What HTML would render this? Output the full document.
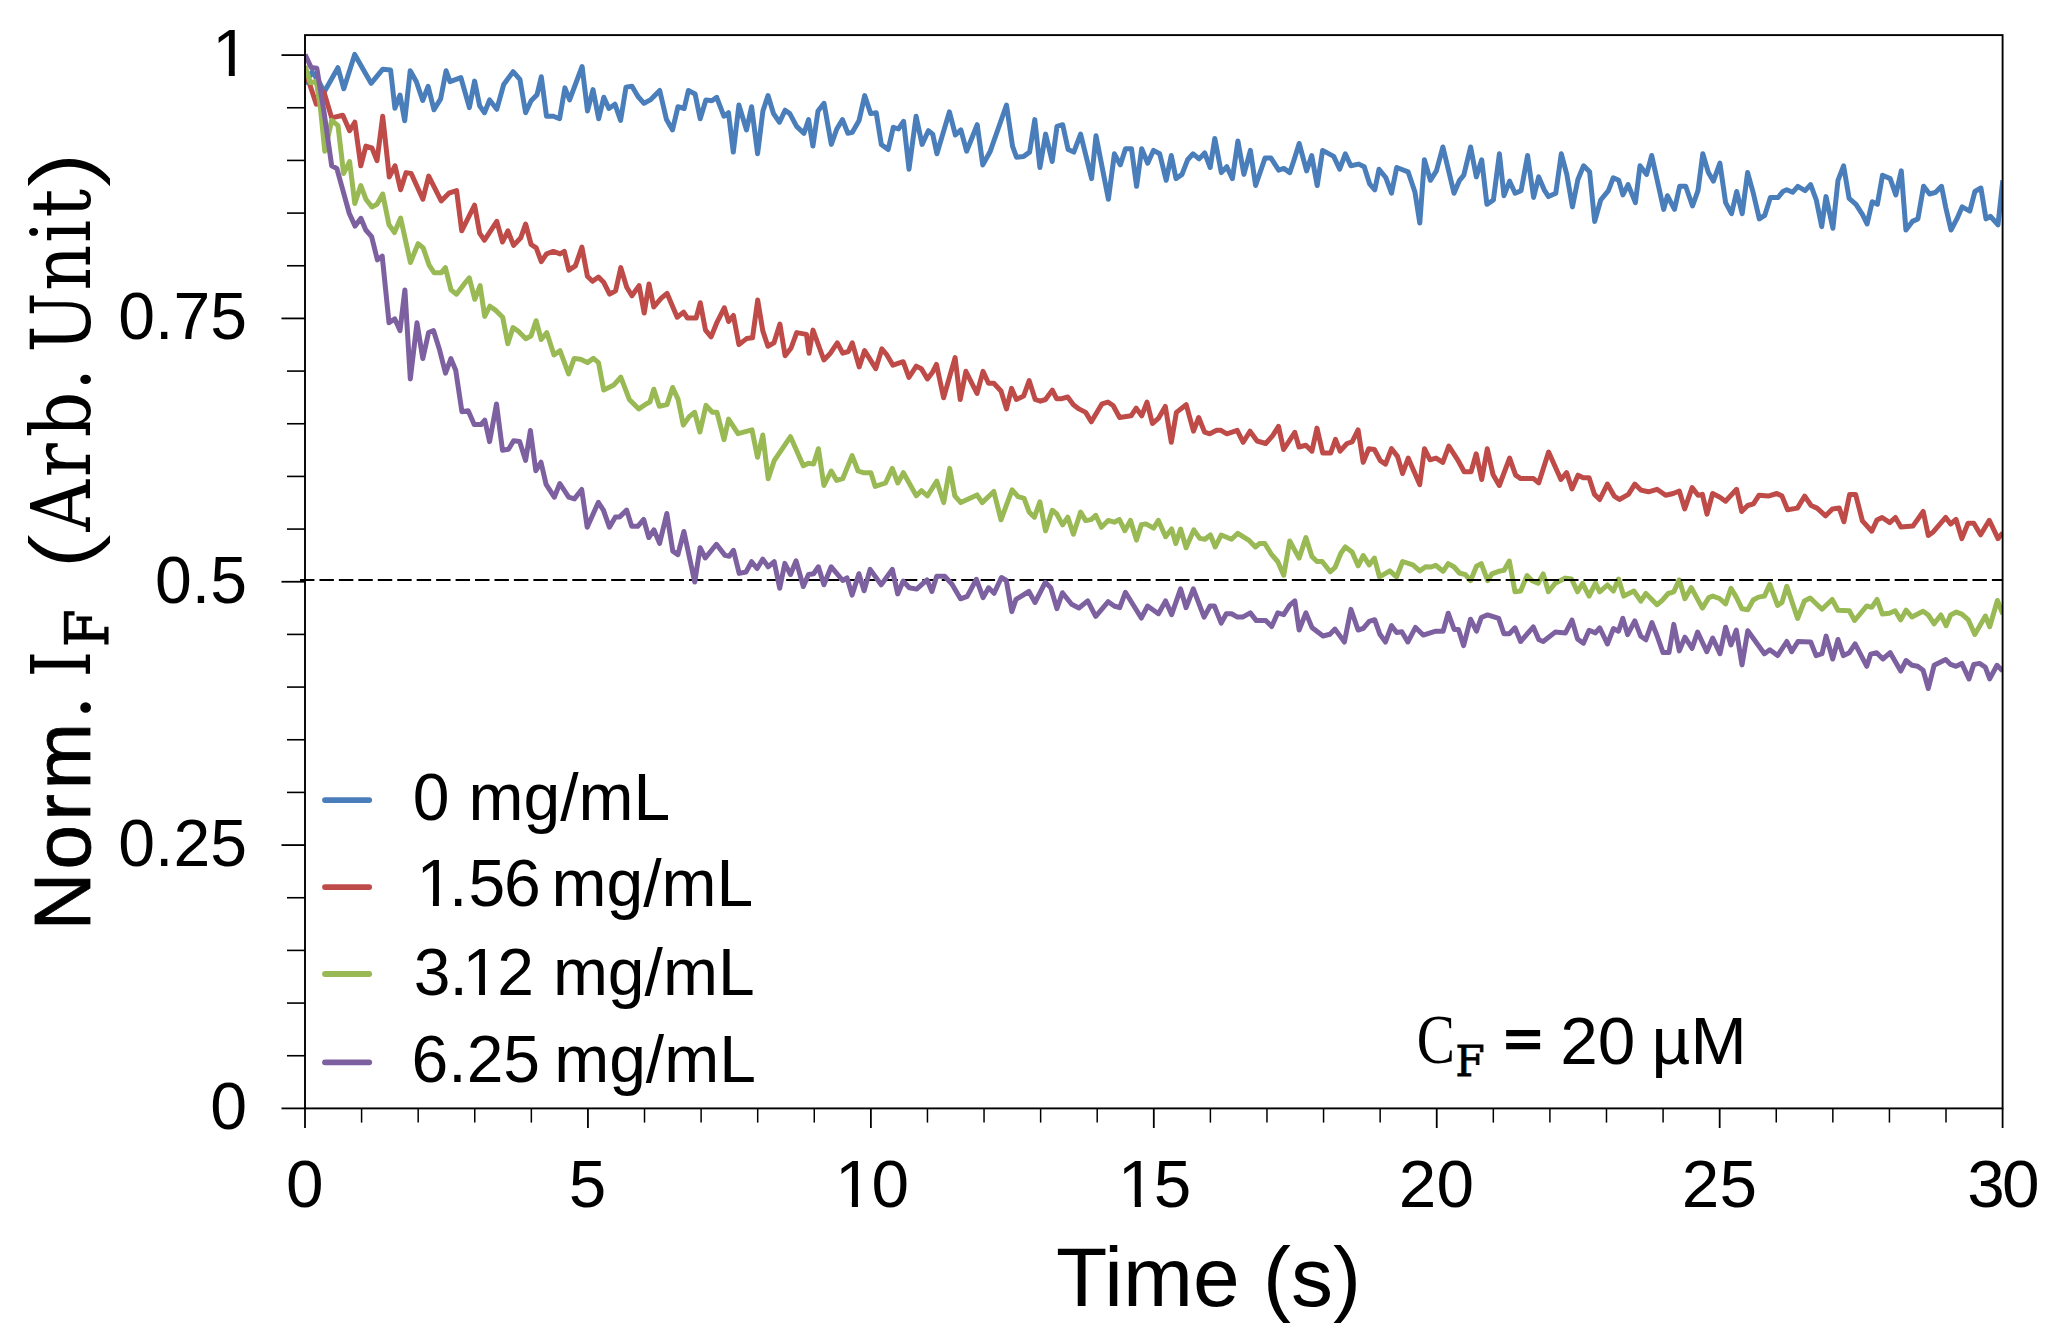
<!DOCTYPE html>
<html lang="en"><head><meta charset="utf-8"><title>Normalized fluorescence intensity vs time</title>
<style>html,body{margin:0;padding:0;background:#fff;}body{width:2050px;height:1344px;overflow:hidden;}svg{display:block;}text{fill:#000;}</style>
</head><body>
<svg width="2050" height="1344" viewBox="0 0 2050 1344">
<rect x="0" y="0" width="2050" height="1344" fill="#ffffff"/>
<defs><clipPath id="plotclip"><rect x="305" y="36" width="1698" height="1072"/></clipPath></defs>
<g id="curves" clip-path="url(#plotclip)">
<polyline points="305.0,84.0 312.0,72.0 318.0,80.0 324.2,92.0 337.9,67.7 343.8,88.8 354.7,54.4 371.1,83.3 382.8,69.2 390.6,70.0 394.9,108.3 400.0,95.0 404.7,120.8 410.2,70.8 416.4,81.7 422.7,100.5 428.1,86.4 434.0,109.8 440.6,98.9 446.1,70.8 450.0,81.7 460.9,77.7 469.4,107.6 474.6,81.1 479.7,105.9 484.5,112.7 489.6,99.9 496.8,109.3 503.7,84.5 513.1,71.7 519.9,79.4 525.6,112.7 531.1,100.8 537.0,94.8 541.3,76.8 546.5,116.2 553.3,116.2 559.6,118.7 564.9,87.9 569.6,99.9 582.1,66.5 587.5,111.0 593.0,89.6 598.7,118.7 603.8,97.3 608.9,108.5 614.9,104.2 620.6,120.4 626.0,87.1 632.0,86.2 638.0,96.5 644.0,103.3 650.3,99.9 659.7,90.5 666.5,119.6 672.5,129.9 678.0,106.7 684.2,108.5 688.4,90.5 695.1,93.9 700.2,118.7 705.9,99.9 711.9,100.8 716.7,97.3 723.9,116.2 728.5,112.7 733.3,152.1 738.9,105.0 746.5,129.9 751.6,106.7 757.6,153.8 762.9,111.0 768.0,95.6 773.5,113.6 779.5,122.2 785.1,110.2 789.8,113.6 796.6,126.4 804.0,133.3 808.6,119.6 812.9,146.1 818.0,111.0 824.0,103.3 831.3,144.4 836.8,129.0 842.5,119.6 847.9,133.3 852.2,132.4 859.1,120.4 864.7,95.6 870.7,113.6 876.2,112.7 881.3,144.4 888.2,149.5 893.3,127.3 898.4,129.0 903.6,121.3 909.0,169.2 916.1,116.2 922.1,144.4 928.4,130.7 932.7,134.1 936.9,153.8 949.4,111.9 955.4,135.0 960.9,129.9 966.6,151.2 977.2,124.7 982.8,164.9 990.3,151.2 1006.5,105.0 1012.5,146.1 1016.5,157.2 1023.6,156.4 1029.6,152.1 1034.8,119.6 1039.9,167.5 1045.6,134.1 1052.2,161.5 1057.0,126.4 1062.7,124.7 1068.1,149.5 1073.8,152.1 1080.6,134.1 1091.6,178.6 1096.0,135.8 1108.4,199.2 1114.4,153.8 1120.3,164.9 1125.5,148.7 1131.5,148.7 1136.6,186.3 1141.7,148.7 1147.7,163.2 1153.4,150.4 1159.7,153.8 1166.2,180.3 1171.3,155.5 1176.0,178.6 1182.0,174.4 1187.6,159.8 1193.1,153.8 1199.1,158.9 1204.7,153.0 1210.2,167.5 1214.8,138.4 1221.3,172.6 1226.8,166.7 1232.4,178.6 1237.9,141.0 1243.9,174.4 1250.4,150.4 1255.6,185.5 1265.0,158.1 1271.0,158.1 1278.7,170.1 1283.8,168.4 1289.8,172.6 1294.1,159.8 1299.2,143.5 1306.6,170.9 1311.7,155.5 1317.2,185.5 1322.6,150.4 1333.7,156.4 1339.7,169.2 1345.3,153.8 1350.8,165.8 1358.5,164.1 1364.2,166.7 1369.6,183.8 1374.8,189.8 1379.0,169.2 1385.9,177.8 1391.5,193.2 1396.7,167.5 1408.1,171.8 1415.0,192.3 1419.8,223.1 1424.4,159.8 1430.4,180.3 1436.4,170.9 1442.9,147.0 1454.0,193.2 1459.5,180.3 1463.8,175.2 1470.6,147.0 1476.3,176.9 1481.7,159.8 1486.9,204.3 1493.4,200.0 1499.4,153.8 1504.0,195.7 1509.6,181.2 1515.1,193.2 1521.1,190.6 1527.6,155.5 1533.6,197.5 1538.7,176.9 1544.2,189.8 1548.5,196.6 1555.8,193.2 1561.3,153.8 1566.8,174.4 1572.4,206.9 1577.9,179.5 1583.6,165.8 1589.6,171.8 1594.7,221.4 1600.7,200.0 1608.4,190.6 1613.2,177.8 1618.7,180.3 1622.9,194.9 1628.1,184.6 1635.4,202.6 1640.0,165.8 1646.6,174.4 1651.7,155.5 1657.2,180.3 1663.7,209.4 1667.4,195.7 1674.5,209.4 1679.7,186.3 1685.7,186.3 1692.5,206.0 1698.0,190.6 1702.8,153.8 1708.4,172.6 1713.4,181.2 1719.9,163.2 1725.6,202.6 1731.5,213.7 1736.7,191.5 1742.2,213.7 1747.6,172.6 1753.3,193.2 1759.3,218.9 1764.7,215.4 1770.4,197.5 1778.1,197.5 1782.9,191.5 1786.7,189.8 1792.6,192.3 1797.8,186.3 1805.1,190.6 1810.6,184.6 1816.3,200.0 1821.7,226.6 1826.0,196.6 1832.9,228.3 1838.0,180.3 1843.6,165.8 1849.1,198.3 1856.0,204.3 1862.5,214.6 1867.1,224.0 1872.2,201.7 1877.4,204.3 1882.5,175.2 1890.2,178.6 1895.8,194.9 1901.3,170.9 1905.9,230.0 1912.4,221.4 1917.9,218.9 1923.6,186.3 1929.6,194.0 1935.6,192.3 1941.5,186.3 1945.8,207.7 1951.0,230.0 1956.9,218.9 1962.1,206.9 1969.8,211.1 1974.9,191.5 1980.9,188.0 1986.0,218.9 1990.3,216.3 1998.0,224.8 2002.8,180.3" fill="none" stroke="#4a7ebb" stroke-width="5" stroke-linejoin="round" stroke-linecap="butt"/>
<polyline points="305.0,70.0 316.3,104.2 324.0,92.2 331.7,117.9 342.8,115.3 349.6,130.7 354.8,122.2 360.8,165.8 365.9,146.1 371.9,147.8 377.0,160.7 382.7,116.2 389.3,176.9 395.0,165.8 400.6,189.8 406.1,172.6 411.2,173.5 422.9,199.2 428.7,176.1 441.2,200.9 448.9,193.2 456.6,190.6 461.7,230.8 474.6,205.2 479.7,233.4 484.5,240.2 496.8,221.4 502.5,242.0 507.9,230.8 513.6,245.4 520.8,237.7 525.6,224.0 531.1,244.5 536.2,247.9 541.3,261.6 546.5,253.9 553.3,251.4 560.1,253.9 564.3,251.3 568.9,270.2 575.4,265.9 581.9,247.1 587.4,276.2 592.5,281.3 598.5,277.0 603.6,282.2 609.6,294.1 615.6,290.7 620.8,267.6 626.7,287.3 631.9,295.8 639.1,285.6 644.2,313.0 649.0,283.9 653.8,307.0 661.0,298.4 667.0,293.3 677.2,317.2 683.6,312.1 687.5,318.1 696.1,318.1 700.3,302.7 705.5,330.1 711.1,336.9 716.6,323.2 724.3,307.8 728.6,321.5 733.4,315.5 738.9,344.6 746.6,338.6 752.5,337.8 757.7,300.1 762.8,330.9 767.9,346.3 773.9,342.9 779.9,324.1 785.1,355.7 791.1,348.0 796.7,332.6 806.5,334.4 809.0,353.2 813.0,330.1 823.9,360.0 830.4,353.2 837.3,342.9 842.7,353.2 848.4,351.5 852.3,342.9 859.2,366.9 864.6,350.6 875.8,368.6 881.8,348.9 886.9,354.9 892.9,365.2 903.2,361.7 908.9,377.3 916.3,366.2 921.4,368.7 927.4,379.0 932.5,372.2 936.5,364.4 943.6,397.8 955.1,357.6 960.2,399.5 965.9,371.3 977.0,393.5 983.0,371.3 988.5,383.3 993.8,383.3 1001.0,391.0 1006.5,408.9 1011.6,388.4 1016.4,399.5 1023.6,396.1 1029.2,380.7 1035.2,399.5 1040.3,401.2 1045.5,399.5 1052.3,390.1 1056.6,398.7 1061.7,398.7 1067.7,397.0 1073.4,404.7 1078.9,408.9 1085.7,412.4 1091.3,421.8 1096.8,412.4 1102.0,403.8 1107.9,402.1 1113.1,405.5 1119.6,417.5 1131.1,415.8 1136.2,408.1 1141.7,415.8 1147.0,402.1 1152.4,423.5 1158.4,418.4 1165.3,406.4 1171.3,442.3 1176.4,412.4 1186.2,404.7 1193.5,431.2 1198.7,417.5 1204.6,432.1 1209.8,433.8 1216.6,430.3 1220.9,430.3 1226.9,433.8 1237.2,430.3 1243.2,442.3 1250.0,431.2 1257.1,441.0 1265.7,443.5 1272.5,435.8 1278.5,426.4 1283.6,449.5 1294.8,432.4 1299.0,447.0 1305.9,445.3 1311.9,451.2 1317.0,428.1 1322.7,453.0 1330.7,453.0 1335.5,439.3 1340.1,451.2 1347.0,443.5 1352.1,441.8 1358.1,429.9 1363.2,462.4 1368.7,448.7 1374.4,449.5 1380.3,460.7 1385.5,464.1 1391.5,448.7 1397.5,456.4 1402.6,473.5 1408.2,458.1 1419.7,484.6 1424.5,448.7 1430.0,459.8 1436.0,458.1 1442.8,462.4 1448.8,446.1 1458.2,460.7 1464.2,471.8 1471.1,471.8 1476.2,453.8 1481.7,479.5 1487.3,448.7 1493.0,474.4 1499.3,485.5 1509.6,458.1 1515.6,475.2 1520.7,478.6 1533.5,478.6 1538.7,482.9 1548.6,452.1 1560.9,479.5 1566.6,472.6 1572.0,488.9 1578.0,475.2 1583.2,477.8 1589.1,477.8 1594.5,494.4 1599.7,499.5 1607.4,484.1 1614.2,496.1 1619.4,499.5 1628.4,494.4 1634.8,484.1 1640.8,490.1 1648.5,491.8 1657.0,489.3 1665.6,495.3 1673.3,493.5 1679.3,491.0 1684.7,508.9 1692.1,487.6 1698.1,495.3 1702.4,494.4 1707.0,514.1 1712.6,493.5 1719.5,497.0 1725.5,501.2 1736.6,489.3 1741.7,511.5 1747.7,505.5 1753.4,503.8 1758.9,495.3 1768.3,496.1 1776.8,493.5 1782.0,496.1 1787.6,509.8 1797.4,508.1 1804.7,496.1 1811.1,505.5 1817.0,508.1 1825.6,515.8 1832.4,508.9 1839.3,508.1 1843.9,521.8 1849.6,494.4 1855.6,494.4 1862.4,520.9 1871.8,531.2 1876.9,520.1 1882.1,517.5 1889.8,522.6 1895.4,517.5 1900.9,526.9 1912.9,526.1 1923.2,511.5 1928.3,535.5 1933.2,531.9 1945.7,517.4 1950.6,524.1 1956.0,519.3 1961.8,538.6 1968.0,523.2 1973.8,523.2 1980.6,534.8 1989.3,520.3 1998.0,538.6 2002.8,532.8" fill="none" stroke="#be4b48" stroke-width="5" stroke-linejoin="round" stroke-linecap="butt"/>
<polyline points="305.0,66.0 310.3,82.8 316.3,81.1 320.5,108.5 324.8,151.2 331.7,120.4 338.0,125.6 343.6,173.5 349.6,161.5 354.8,203.4 360.8,185.5 365.9,199.2 371.9,206.9 377.0,204.3 382.7,194.0 389.0,224.8 394.5,232.5 400.6,218.0 410.4,262.5 418.1,243.7 423.2,247.9 429.1,265.1 434.2,272.8 441.1,272.8 445.4,267.7 451.0,289.9 456.5,294.2 464.2,283.9 469.3,277.9 474.8,299.3 480.1,285.6 484.7,316.4 489.9,306.2 495.8,310.4 502.7,317.3 507.8,343.8 513.0,327.6 518.1,331.0 525.8,338.7 530.9,336.1 536.1,320.7 541.2,339.5 546.8,332.7 554.0,354.9 560.0,350.7 568.6,373.8 574.2,358.4 580.6,359.2 587.4,362.6 593.4,358.4 598.5,362.6 603.7,390.0 613.9,384.9 620.8,377.2 629.3,399.4 638.8,408.9 646.5,403.7 649.9,402.0 653.8,389.2 659.3,406.3 667.0,404.6 672.6,387.5 678.1,399.4 683.3,425.1 689.2,416.6 694.7,412.3 699.9,432.0 706.0,405.4 712.3,412.3 717.0,412.3 724.0,439.7 728.6,419.1 738.0,433.7 752.0,429.9 757.5,457.3 762.8,435.0 768.2,478.7 774.2,460.7 790.5,436.7 803.3,465.8 808.5,463.3 813.6,464.1 818.4,448.7 823.9,485.5 831.2,471.0 836.7,480.4 842.7,478.7 852.1,455.6 858.1,471.0 863.2,472.7 870.9,472.7 875.2,486.4 885.5,483.0 892.3,468.4 897.8,483.0 903.4,472.7 916.3,495.8 921.4,490.7 927.4,495.8 936.8,481.2 943.7,502.6 949.7,468.4 954.8,495.8 960.8,502.6 977.0,494.9 982.2,502.6 993.8,491.5 1001.0,519.8 1012.1,489.8 1018.1,496.7 1024.1,498.4 1029.2,512.1 1034.4,517.2 1039.9,501.8 1045.5,530.9 1052.3,510.3 1056.6,513.8 1062.6,524.9 1067.8,517.2 1073.4,534.3 1080.6,512.1 1085.7,520.6 1091.1,519.6 1095.7,515.3 1101.4,527.3 1108.2,520.4 1114.2,522.2 1119.4,519.6 1124.8,530.7 1130.5,520.4 1136.5,540.1 1141.3,524.7 1145.9,523.9 1153.6,528.1 1158.4,520.4 1165.6,536.7 1171.6,529.0 1175.8,543.5 1180.6,529.0 1186.1,547.8 1193.8,529.9 1199.8,538.4 1204.9,539.3 1210.4,535.0 1215.2,547.0 1221.2,535.0 1231.5,539.3 1237.8,533.3 1248.6,540.1 1255.4,547.0 1259.7,543.5 1264.8,543.5 1271.7,554.7 1277.7,561.5 1283.7,575.2 1289.7,541.0 1299.1,558.1 1305.9,537.6 1311.9,556.4 1317.0,561.5 1322.2,561.5 1330.2,571.8 1335.0,567.5 1341.0,553.0 1345.3,547.0 1352.1,552.1 1358.1,565.8 1363.3,555.5 1369.2,564.9 1374.4,558.1 1379.5,576.9 1389.8,570.9 1396.6,576.9 1402.6,561.5 1412.9,564.9 1419.7,570.9 1425.7,566.7 1431.1,567.0 1435.7,565.3 1443.1,571.3 1448.2,563.6 1454.2,567.0 1459.4,573.0 1465.4,574.7 1470.5,580.7 1476.5,566.2 1481.3,563.6 1487.6,580.7 1491.9,573.9 1498.7,571.3 1503.9,570.4 1509.3,561.0 1515.0,591.8 1520.6,591.0 1527.0,575.6 1532.1,580.7 1538.1,583.3 1543.2,573.9 1548.4,591.8 1555.2,583.3 1565.5,578.1 1571.5,579.0 1577.5,591.8 1582.6,583.3 1589.1,596.1 1595.4,583.3 1599.7,591.8 1607.4,585.0 1613.4,591.0 1618.5,579.0 1623.7,596.1 1633.9,591.0 1640.8,601.2 1645.9,593.5 1657.0,604.7 1662.2,600.4 1668.2,593.5 1673.8,591.8 1679.3,579.9 1684.9,598.7 1691.3,587.6 1702.4,608.1 1708.8,597.6 1712.7,596.1 1719.5,598.5 1725.6,603.9 1731.0,588.3 1736.3,597.1 1742.0,608.8 1747.8,609.8 1753.2,600.0 1758.5,597.1 1764.4,596.1 1769.8,584.4 1777.6,605.4 1782.0,602.4 1786.8,586.3 1797.6,618.5 1804.4,601.0 1810.2,598.0 1822.0,609.3 1832.2,599.5 1838.0,610.2 1849.3,610.7 1854.6,620.5 1866.8,605.9 1871.7,607.3 1877.1,599.5 1882.4,614.1 1889.3,613.2 1895.1,610.7 1900.7,619.9 1906.1,610.2 1911.9,617.0 1923.1,611.2 1928.3,615.0 1934.1,623.8 1940.9,615.0 1946.1,625.7 1950.6,615.0 1956.4,612.1 1961.8,614.1 1968.4,619.9 1974.8,634.4 1985.4,616.0 1989.7,626.7 1997.4,600.5 2002.8,614.1" fill="none" stroke="#98b954" stroke-width="5" stroke-linejoin="round" stroke-linecap="butt"/>
</g>
<line x1="300" y1="580" x2="2002.6" y2="580" stroke="#000" stroke-width="2" stroke-dasharray="14.45 4.997"/>
<g clip-path="url(#plotclip)">
<polyline points="305.1,54.5 311.1,67.4 316.8,68.2 324.0,111.9 331.7,165.8 336.8,168.4 349.3,213.5 355.1,226.1 360.9,218.3 365.8,230.0 371.6,236.7 377.4,259.9 382.2,256.1 389.0,322.8 394.8,318.9 400.0,330.6 404.9,289.9 410.3,378.9 417.0,322.8 422.8,358.6 428.6,332.5 433.5,330.6 439.3,348.9 445.5,373.1 450.9,358.6 455.7,370.2 461.9,411.7 468.2,410.8 474.2,424.5 481.1,424.5 484.8,420.2 489.6,441.6 496.5,404.0 502.5,450.2 508.5,449.3 513.6,440.8 519.6,441.6 525.6,460.4 530.4,430.5 535.8,470.7 541.0,462.2 546.1,484.4 554.3,497.2 559.8,483.5 568.7,497.2 574.4,498.9 581.7,489.5 587.2,527.2 598.3,502.4 603.4,510.1 609.4,527.2 615.4,516.9 619.7,516.9 626.6,510.1 631.7,526.3 637.7,526.3 643.7,519.5 648.8,537.5 653.9,529.8 659.6,543.4 666.8,513.5 672.8,551.1 677.9,554.6 683.9,531.5 694.7,582.0 700.1,547.7 705.3,558.0 716.4,544.3 725.0,555.4 729.2,556.3 733.5,550.3 739.2,573.4 746.0,572.0 751.6,561.7 757.1,568.5 762.8,559.1 768.2,566.8 774.2,561.7 779.7,588.2 784.8,563.4 790.5,574.5 796.1,560.8 803.3,586.5 808.5,574.5 813.6,573.7 818.4,566.8 823.9,584.8 831.2,566.8 842.7,580.5 847.0,577.9 852.1,595.1 858.9,573.7 864.1,590.8 870.1,569.4 881.2,584.8 892.3,569.4 897.7,593.9 903.2,581.1 909.3,587.8 916.6,589.1 927.0,579.9 931.9,591.5 936.7,576.3 944.7,576.3 952.0,584.2 960.5,598.8 967.2,596.4 976.4,579.3 983.1,597.6 988.6,587.8 994.1,593.3 1001.4,577.5 1006.3,580.5 1011.8,611.6 1016.0,599.4 1028.9,591.5 1035.0,602.5 1045.3,582.4 1050.8,587.8 1056.9,608.6 1062.4,592.7 1071.6,604.3 1078.9,608.0 1087.7,600.9 1095.7,616.3 1108.2,601.7 1114.2,606.0 1119.7,607.7 1125.4,592.3 1141.3,618.0 1147.6,606.0 1158.4,613.7 1165.6,600.9 1171.6,614.6 1180.6,588.9 1186.1,607.7 1193.3,588.9 1204.1,617.1 1210.1,606.0 1214.4,606.0 1221.2,623.1 1226.3,613.7 1231.5,613.7 1237.5,617.1 1242.6,617.1 1250.3,612.9 1256.3,620.6 1265.7,620.6 1271.7,626.6 1277.7,612.9 1283.7,614.6 1289.7,605.2 1294.8,600.9 1299.1,630.0 1305.9,612.9 1311.9,627.4 1323.0,636.0 1329.9,634.3 1335.0,629.1 1344.4,642.0 1350.9,609.4 1358.1,630.0 1363.3,628.3 1369.2,621.4 1374.7,619.7 1379.9,634.3 1385.5,642.0 1391.5,625.7 1396.6,632.5 1401.8,631.7 1407.8,642.0 1415.5,627.4 1423.2,635.1 1435.7,631.2 1443.1,631.2 1448.2,613.2 1454.2,629.5 1458.5,629.5 1463.6,645.7 1470.5,619.2 1476.5,631.2 1481.3,617.5 1487.6,614.9 1498.7,618.4 1503.9,633.8 1509.3,633.8 1515.0,627.8 1520.6,641.5 1533.3,626.9 1538.9,639.8 1543.2,641.5 1555.2,632.1 1565.5,632.9 1572.0,620.1 1577.5,638.9 1583.4,643.2 1589.1,630.3 1595.4,632.9 1599.7,627.8 1607.4,644.0 1613.4,628.6 1618.5,631.2 1622.8,618.4 1627.6,634.6 1634.8,620.9 1640.8,636.3 1645.9,639.8 1651.9,622.6 1657.0,635.5 1663.0,652.6 1669.0,652.6 1673.8,624.4 1679.3,650.9 1684.9,637.2 1692.1,648.3 1697.6,632.1 1706.8,651.7 1712.7,638.0 1720.0,653.7 1725.6,627.3 1731.0,644.9 1736.3,630.2 1742.0,664.9 1747.8,630.7 1764.4,653.7 1769.8,649.8 1777.6,655.6 1786.8,641.5 1791.7,651.7 1798.0,641.5 1810.7,642.0 1816.1,655.6 1822.0,653.7 1826.1,636.1 1832.7,659.0 1838.0,639.5 1843.4,655.6 1849.3,652.7 1855.1,643.9 1866.8,666.3 1870.7,654.1 1876.6,652.7 1882.9,659.0 1890.2,652.7 1900.7,671.1 1906.1,660.5 1911.9,665.3 1917.7,666.3 1923.1,670.2 1928.3,688.5 1934.1,665.3 1945.7,659.5 1950.6,664.4 1956.0,666.3 1961.8,663.4 1969.0,678.9 1973.8,664.4 1979.6,663.4 1985.4,667.3 1989.7,678.9 1997.0,665.3 2002.8,671.1" fill="none" stroke="#7d60a0" stroke-width="5" stroke-linejoin="round" stroke-linecap="butt"/>
</g>
<g stroke="#000" stroke-width="1.8" fill="none">
<rect x="305.0" y="35.1" width="1697.6" height="1073.3" stroke-width="1.9"/>
<line x1="281.5" y1="1108.40" x2="305.0" y2="1108.40"/>
<line x1="287.0" y1="1055.74" x2="305.0" y2="1055.74" stroke-width="1.6"/>
<line x1="287.0" y1="1003.07" x2="305.0" y2="1003.07" stroke-width="1.6"/>
<line x1="287.0" y1="950.40" x2="305.0" y2="950.40" stroke-width="1.6"/>
<line x1="287.0" y1="897.74" x2="305.0" y2="897.74" stroke-width="1.6"/>
<line x1="281.5" y1="845.08" x2="305.0" y2="845.08"/>
<line x1="287.0" y1="792.41" x2="305.0" y2="792.41" stroke-width="1.6"/>
<line x1="287.0" y1="739.75" x2="305.0" y2="739.75" stroke-width="1.6"/>
<line x1="287.0" y1="687.08" x2="305.0" y2="687.08" stroke-width="1.6"/>
<line x1="287.0" y1="634.41" x2="305.0" y2="634.41" stroke-width="1.6"/>
<line x1="281.5" y1="581.75" x2="305.0" y2="581.75"/>
<line x1="287.0" y1="529.08" x2="305.0" y2="529.08" stroke-width="1.6"/>
<line x1="287.0" y1="476.42" x2="305.0" y2="476.42" stroke-width="1.6"/>
<line x1="287.0" y1="423.75" x2="305.0" y2="423.75" stroke-width="1.6"/>
<line x1="287.0" y1="371.09" x2="305.0" y2="371.09" stroke-width="1.6"/>
<line x1="281.5" y1="318.42" x2="305.0" y2="318.42"/>
<line x1="287.0" y1="265.76" x2="305.0" y2="265.76" stroke-width="1.6"/>
<line x1="287.0" y1="213.09" x2="305.0" y2="213.09" stroke-width="1.6"/>
<line x1="287.0" y1="160.43" x2="305.0" y2="160.43" stroke-width="1.6"/>
<line x1="287.0" y1="107.76" x2="305.0" y2="107.76" stroke-width="1.6"/>
<line x1="281.5" y1="55.10" x2="305.0" y2="55.10"/>
<line x1="305.00" y1="1108.4" x2="305.00" y2="1128.0"/>
<line x1="361.59" y1="1108.4" x2="361.59" y2="1122.6" stroke-width="1.5"/>
<line x1="418.17" y1="1108.4" x2="418.17" y2="1122.6" stroke-width="1.5"/>
<line x1="474.76" y1="1108.4" x2="474.76" y2="1122.6" stroke-width="1.5"/>
<line x1="531.35" y1="1108.4" x2="531.35" y2="1122.6" stroke-width="1.5"/>
<line x1="587.93" y1="1108.4" x2="587.93" y2="1128.0"/>
<line x1="644.52" y1="1108.4" x2="644.52" y2="1122.6" stroke-width="1.5"/>
<line x1="701.11" y1="1108.4" x2="701.11" y2="1122.6" stroke-width="1.5"/>
<line x1="757.69" y1="1108.4" x2="757.69" y2="1122.6" stroke-width="1.5"/>
<line x1="814.28" y1="1108.4" x2="814.28" y2="1122.6" stroke-width="1.5"/>
<line x1="870.87" y1="1108.4" x2="870.87" y2="1128.0"/>
<line x1="927.45" y1="1108.4" x2="927.45" y2="1122.6" stroke-width="1.5"/>
<line x1="984.04" y1="1108.4" x2="984.04" y2="1122.6" stroke-width="1.5"/>
<line x1="1040.63" y1="1108.4" x2="1040.63" y2="1122.6" stroke-width="1.5"/>
<line x1="1097.21" y1="1108.4" x2="1097.21" y2="1122.6" stroke-width="1.5"/>
<line x1="1153.80" y1="1108.4" x2="1153.80" y2="1128.0"/>
<line x1="1210.39" y1="1108.4" x2="1210.39" y2="1122.6" stroke-width="1.5"/>
<line x1="1266.97" y1="1108.4" x2="1266.97" y2="1122.6" stroke-width="1.5"/>
<line x1="1323.56" y1="1108.4" x2="1323.56" y2="1122.6" stroke-width="1.5"/>
<line x1="1380.15" y1="1108.4" x2="1380.15" y2="1122.6" stroke-width="1.5"/>
<line x1="1436.73" y1="1108.4" x2="1436.73" y2="1128.0"/>
<line x1="1493.32" y1="1108.4" x2="1493.32" y2="1122.6" stroke-width="1.5"/>
<line x1="1549.91" y1="1108.4" x2="1549.91" y2="1122.6" stroke-width="1.5"/>
<line x1="1606.49" y1="1108.4" x2="1606.49" y2="1122.6" stroke-width="1.5"/>
<line x1="1663.08" y1="1108.4" x2="1663.08" y2="1122.6" stroke-width="1.5"/>
<line x1="1719.67" y1="1108.4" x2="1719.67" y2="1128.0"/>
<line x1="1776.25" y1="1108.4" x2="1776.25" y2="1122.6" stroke-width="1.5"/>
<line x1="1832.84" y1="1108.4" x2="1832.84" y2="1122.6" stroke-width="1.5"/>
<line x1="1889.43" y1="1108.4" x2="1889.43" y2="1122.6" stroke-width="1.5"/>
<line x1="1946.01" y1="1108.4" x2="1946.01" y2="1122.6" stroke-width="1.5"/>
<line x1="2002.60" y1="1108.4" x2="2002.60" y2="1128.0"/>
</g>
<g font-family="'Liberation Sans', Arial, Helvetica, sans-serif" font-size="67.5">
<text x="249.0" y="76.1" text-anchor="end" textLength="36.8" lengthAdjust="spacingAndGlyphs">1</text>
<rect x="216.26" y="70.46" width="12.55" height="6.64" fill="#fff"/><rect x="234.75" y="70.46" width="12.03" height="6.64" fill="#fff"/>
<text x="247.0" y="339.4" text-anchor="end" textLength="128.7" lengthAdjust="spacingAndGlyphs">0.75</text>
<text x="247.0" y="602.8" text-anchor="end" textLength="91.9" lengthAdjust="spacingAndGlyphs">0.5</text>
<text x="247.0" y="866.1" text-anchor="end" textLength="128.7" lengthAdjust="spacingAndGlyphs">0.25</text>
<text x="247.0" y="1129.4" text-anchor="end" textLength="36.8" lengthAdjust="spacingAndGlyphs">0</text>
<text x="304.7" y="1207" text-anchor="middle">0</text>
<text x="587.6" y="1207" text-anchor="middle">5</text>
<text x="834.94 871.57" y="1207">10</text>
<rect x="839.08" y="1201.36" width="12.78" height="6.64" fill="#fff"/><rect x="857.92" y="1201.36" width="12.26" height="6.64" fill="#fff"/>
<text x="1117.87 1153.80" y="1207">15</text>
<rect x="1122.01" y="1201.36" width="12.78" height="6.64" fill="#fff"/><rect x="1140.86" y="1201.36" width="12.26" height="6.64" fill="#fff"/>
<text x="1436.4" y="1207" text-anchor="middle">20</text>
<text x="1719.4" y="1207" text-anchor="middle">25</text>
<text x="1967.37 2001.90" y="1207">30</text>
</g>
<text x="1208.5" y="1305.5" text-anchor="middle" font-family="'Liberation Sans', Arial, Helvetica, sans-serif" font-size="84">Time (s)</text>
<g transform="translate(90,923) rotate(-90)">
<text x="-7.4 53.6 102.3 133.6" y="0" font-family="'Liberation Sans', Arial, Helvetica, sans-serif" font-size="80" stroke="#000" stroke-width="0.8">Norm</text>
<text x="202.4" y="0" font-family="'DejaVu Serif', 'Liberation Serif', serif" font-size="82">.</text>
<text transform="translate(245.6,0) scale(0.826,1)" x="0" y="0" font-family="'DejaVu Serif', 'Liberation Serif', serif" font-size="82">I</text>
<text transform="translate(276,17.6) scale(0.9,1)" x="0" y="0" font-family="'DejaVu Serif', 'Liberation Serif', serif" font-size="60" stroke="#000" stroke-width="1.1">F</text>
<text transform="translate(345,13.6) scale(1.113,1)" x="0" y="0" font-family="IPAGothic, 'DejaVu Sans Light', sans-serif" font-size="91.2">(</text>
<text transform="scale(0.870,1)" x="449.9 512.3 558.2 611.9" y="0" font-family="'DejaVu Serif', 'Liberation Serif', serif" font-size="82">Arb.</text>
<text transform="scale(0.870,1)" x="655.7 726.8 782.0 810.8" y="0" font-family="'DejaVu Serif', 'Liberation Serif', serif" font-size="82">Unit</text>
<text transform="translate(729.1,13.6) scale(1.113,1)" x="0" y="0" font-family="IPAGothic, 'DejaVu Sans Light', sans-serif" font-size="91.2">)</text>
</g>
<g font-family="'Liberation Sans', Arial, Helvetica, sans-serif" font-size="66">
<line x1="325" y1="800.1" x2="369.2" y2="800.1" stroke="#4a7ebb" stroke-width="5.8" stroke-linecap="round"/>
<text x="412.7" y="820.4">0</text>
<text x="468.5" y="820.4">mg/mL</text>
<line x1="325" y1="887.1" x2="369.2" y2="887.1" stroke="#be4b48" stroke-width="5.8" stroke-linecap="round"/>
<text x="416.4 448.9 468.6 504.0" y="906.1">1.56</text>
<rect x="420.43" y="900.57" width="12.52" height="6.53" fill="#fff"/><rect x="438.88" y="900.57" width="12.00" height="6.53" fill="#fff"/>
<text x="551.6" y="906.1">mg/mL</text>
<line x1="325" y1="974.0" x2="369.2" y2="974.0" stroke="#98b954" stroke-width="5.8" stroke-linecap="round"/>
<text x="413.7 449.4 462.5 497.2" y="994.6">3.12</text>
<rect x="466.53" y="989.07" width="12.52" height="6.53" fill="#fff"/><rect x="484.98" y="989.07" width="12.00" height="6.53" fill="#fff"/>
<text x="552.9" y="994.6">mg/mL</text>
<line x1="325" y1="1062.3" x2="369.2" y2="1062.3" stroke="#7d60a0" stroke-width="5.8" stroke-linecap="round"/>
<text x="411.6" y="1081.5">6.25</text>
<text x="554.2" y="1081.5">mg/mL</text>
</g>
<text transform="translate(1416.7,1063.3) scale(0.83,1)" x="0" y="0" font-family="'Liberation Serif', serif" font-size="69">C</text>
<text x="1455.6" y="1076.4" font-family="'DejaVu Serif', 'Liberation Serif', serif" font-size="42" stroke="#000" stroke-width="0.9">F</text>
<text transform="translate(1504.6,1056.5) scale(1.24,1)" x="0" y="0" font-family="'Liberation Sans', Arial, Helvetica, sans-serif" font-size="51.5" stroke="#000" stroke-width="2.4">=</text>
<text x="1560.3" y="1063.5" font-family="'Liberation Sans', Arial, Helvetica, sans-serif" font-size="67.5">20</text>
<text x="1651.5" y="1063.5" font-family="'Liberation Sans', Arial, Helvetica, sans-serif" font-size="67.5">µM</text>
</svg>
</body></html>
